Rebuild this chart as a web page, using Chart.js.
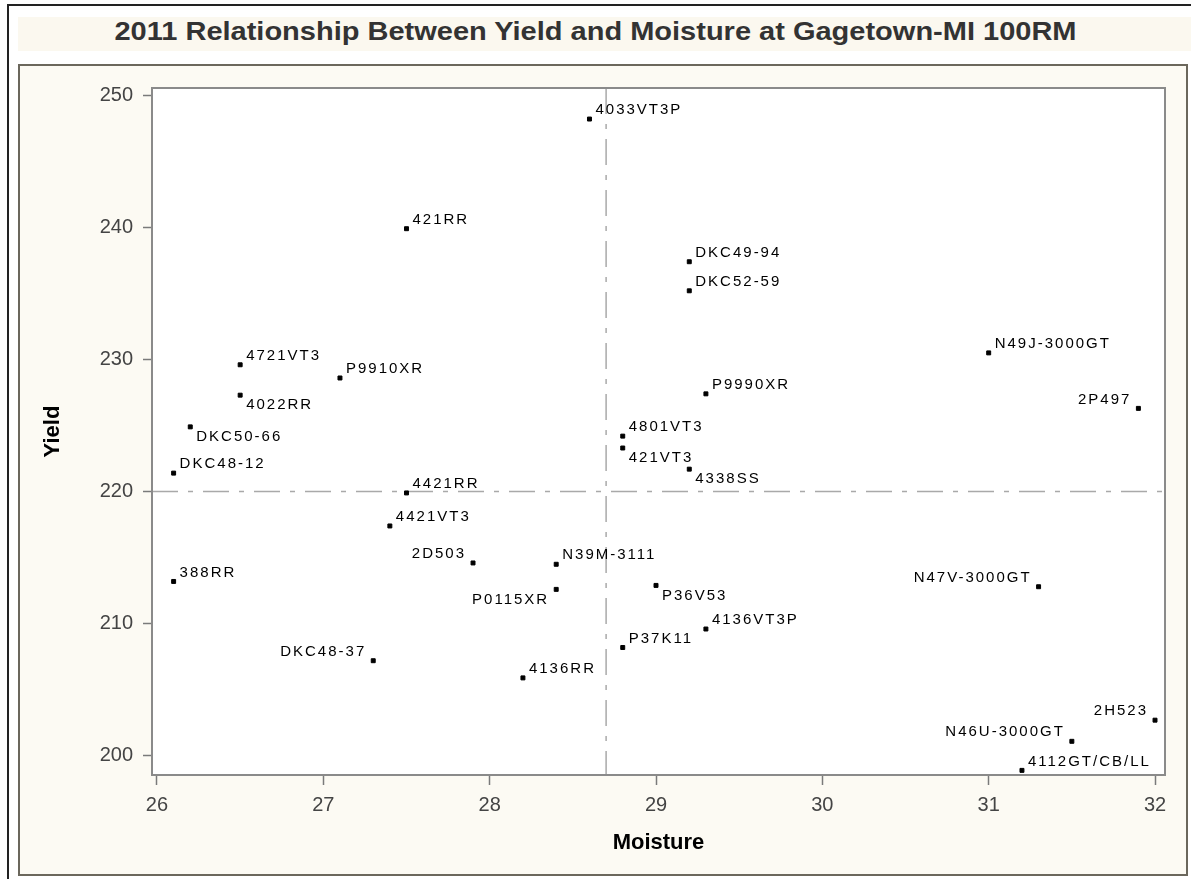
<!DOCTYPE html>
<html>
<head>
<meta charset="utf-8">
<script src="https://cdn.jsdelivr.net/npm/chart.js@4/dist/chart.umd.min.js"></script>
<style>
  html, body { margin: 0; padding: 0; background: #fff; overflow: hidden; }
  #frame { position: absolute; left: 7px; top: 4px; width: 1300px; height: 1000px; border-left: 2px solid #222; border-top: 2px solid #222; }
  #band { position: absolute; left: 18px; top: 17px; width: 1173px; height: 34px; background: #fbf8ef; }
  #title { position: absolute; left: 0; top: 17px; width: 1191px; line-height: 34px; text-align: center;
           font: bold 25px "Liberation Sans", Arial, sans-serif; color: #333; transform: scaleX(1.16); }
  #box { position: absolute; left: 18px; top: 64px; width: 1166px; height: 808px; border: 2px solid #6b675c; background: #fcfaf3; }
  #wrap { position: absolute; left: 0; top: 0; width: 1191px; height: 879px; }
</style>
</head>
<body>
<div id="frame"></div>
<div id="band"></div>
<div id="title">2011 Relationship Between Yield and Moisture at Gagetown-MI 100RM</div>
<div id="box"></div>
<div id="wrap"><canvas id="chart"></canvas></div>
<script>
  // ────────── Data ──────────
  const hybrids = ['4033VT3P', '421RR', 'DKC49-94', 'DKC52-59', 'N49J-3000GT', '4721VT3', 'P9910XR', 'P9990XR',
    '4022RR', '2P497', 'DKC50-66', '4801VT3', '421VT3', 'DKC48-12', '4338SS', '4421RR', '4421VT3', '2D503',
    'N39M-3111', '388RR', 'P0115XR', 'P36V53', 'N47V-3000GT', '4136VT3P', 'P37K11', 'DKC48-37', '4136RR',
    '2H523', 'N46U-3000GT', '4112GT/CB/LL'];
  const moisture = [28.6, 27.5, 29.2, 29.2, 31.0, 26.5, 27.1, 29.3,
    26.5, 31.9, 26.2, 28.8, 28.8, 26.1, 29.2, 27.5, 27.4, 27.9,
    28.4, 26.1, 28.4, 29.0, 31.3, 29.3, 28.8, 27.3, 28.2,
    32.0, 31.5, 31.2];
  const yields = [248.2, 239.9, 237.4, 235.2, 230.5, 229.6, 228.6, 227.4,
    227.3, 226.3, 224.9, 224.2, 223.3, 221.4, 221.7, 219.9, 217.4, 214.6,
    214.5, 213.2, 212.6, 212.9, 212.8, 209.6, 208.2, 207.2, 205.9,
    202.7, 201.1, 198.9];
  const xTickValues = [26, 27, 28, 29, 30, 31, 32];
  const yTickValues = [200, 210, 220, 230, 240, 250];
  const meanMoisture = 28.7;
  const meanYield = 220;

  // where each name sits next to its point: u/l = above/below, r/l = right/left
  const labelSide = ['ur', 'ur', 'ur', 'ur', 'ur', 'ur', 'ur', 'ur',
    'lr', 'ul', 'lr', 'ur', 'lr', 'ur', 'lr', 'ur', 'ur', 'ul',
    'ur', 'ur', 'll', 'lr', 'ul', 'ur', 'ur', 'ul', 'ur',
    'ul', 'ul', 'ur'];

  // ────────── Plugins ──────────
  const plotFrame = {
    id: 'plotFrame',
    beforeDraw(chart) {
      const {ctx, chartArea: a} = chart;
      ctx.save();
      ctx.fillStyle = '#fff';
      ctx.fillRect(a.left, a.top, a.right - a.left, a.bottom - a.top);
      ctx.restore();
    },
    afterDraw(chart) {
      const {ctx, chartArea: a} = chart;
      ctx.save();
      ctx.strokeStyle = '#8a8a8a';
      ctx.lineWidth = 2;
      ctx.strokeRect(a.left, a.top, a.right - a.left, a.bottom - a.top);
      ctx.restore();
    }
  };

  const refLines = {
    id: 'refLines',
    beforeDatasetsDraw(chart) {
      const {ctx, chartArea: a, scales: {x, y}} = chart;
      const px = x.getPixelForValue(meanMoisture);
      const py = y.getPixelForValue(meanYield);
      ctx.save();
      ctx.strokeStyle = '#a9a9a9';
      ctx.lineWidth = 1.5;
      ctx.setLineDash([26, 10, 5, 10]);
      ctx.beginPath();
      ctx.moveTo(px, a.top);
      ctx.lineTo(px, a.bottom);
      ctx.moveTo(a.left, py);
      ctx.lineTo(a.right, py);
      ctx.stroke();
      ctx.restore();
    }
  };

  const pointNames = {
    id: 'pointNames',
    afterDatasetsDraw(chart) {
      const {ctx} = chart;
      const pts = chart.getDatasetMeta(0).data;
      ctx.save();
      ctx.font = '15px "Liberation Sans", Arial, sans-serif';
      ctx.fillStyle = '#000';
      ctx.letterSpacing = '2px';
      ctx.textBaseline = 'middle';
      pts.forEach((pt, i) => {
        const side = labelSide[i];
        const right = side[1] === 'r';
        ctx.textAlign = right ? 'left' : 'right';
        ctx.fillText(hybrids[i], pt.x + (right ? 6 : -7), pt.y + (side[0] === 'u' ? -9 : 10));
      });
      ctx.restore();
    }
  };

  // ────────── Chart ──────────
  const tickFont = {family: '"Liberation Sans", Arial, sans-serif', size: 20};
  const titleFont = {family: '"Liberation Sans", Arial, sans-serif', size: 22, weight: 'bold'};

  new Chart(document.getElementById('chart'), {
    type: 'scatter',
    data: {
      datasets: [{
        data: hybrids.map((h, i) => ({x: moisture[i], y: yields[i]})),
        pointStyle: 'rect',
        pointRadius: 2.8,
        backgroundColor: '#000',
        borderColor: '#000',
        borderWidth: 1
      }]
    },
    options: {
      responsive: true,
      maintainAspectRatio: false,
      animation: false,
      events: [],
      layout: {padding: {left: 30, top: 88, right: 26, bottom: 20}},
      plugins: {legend: {display: false}, tooltip: {enabled: false}},
      scales: {
        x: {
          type: 'linear',
          min: 25.97,
          max: 32.06,
          afterBuildTicks: s => { s.ticks = xTickValues.map(v => ({value: v})); },
          afterFit: s => { s.height = 84; },
          border: {display: false},
          grid: {drawOnChartArea: false, drawTicks: true, tickLength: 10, tickColor: '#7a7a7a', tickWidth: 1.5},
          ticks: {font: tickFont, color: '#444', padding: 8, maxRotation: 0},
          title: {display: true, text: 'Moisture', font: titleFont, color: '#000', padding: {top: 0, bottom: 3}}
        },
        y: {
          type: 'linear',
          min: 198.55,
          max: 250.55,
          afterBuildTicks: s => { s.ticks = yTickValues.map(v => ({value: v})); },
          afterFit: s => { s.width = 122; },
          border: {display: false},
          grid: {drawOnChartArea: false, drawTicks: true, tickLength: 9, tickColor: '#7a7a7a', tickWidth: 1.5},
          ticks: {font: tickFont, color: '#444', padding: 10},
          title: {display: true, text: 'Yield', font: titleFont, color: '#000', padding: {top: 10, bottom: 0}}
        }
      }
    },
    plugins: [plotFrame, refLines, pointNames]
  });
</script>
</body>
</html>
